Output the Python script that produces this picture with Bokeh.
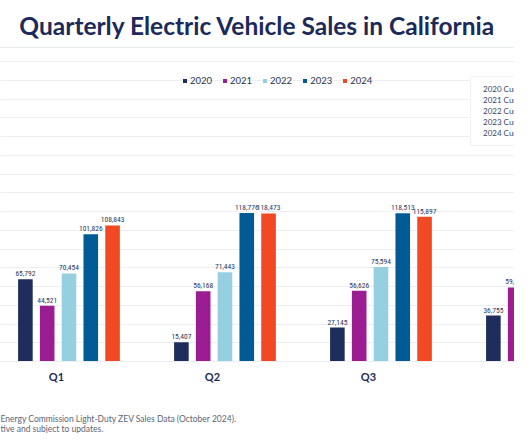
import math
from bokeh.plotting import figure
from bokeh.models import (ColumnDataSource, Legend, LegendItem, LinearAxis, FixedTicker,
                          SingleIntervalTicker, Grid, Title)
from bokeh.core.properties import value
from bokeh.embed import file_html
from bokeh.resources import INLINE

# ---------------- data ----------------
title_text = "Quarterly Electric Vehicle Sales in California"
quarters = ["Q1", "Q2", "Q3", "Q4"]
years = ["2020", "2021", "2022", "2023", "2024"]
nan = float("nan")
sales_2020 = [65792, 15407, 27145, 36755]
sales_2021 = [44521, 56168, 56626, 59245]
sales_2022 = [70454, 71443, 75594, nan]
sales_2023 = [101826, 118776, 118513, nan]
sales_2024 = [108843, 118473, 115897, nan]
series = [sales_2020, sales_2021, sales_2022, sales_2023, sales_2024]
cumulative_labels = [y + " Cumulative" for y in years]
footnotes = ["Energy Commission Light-Duty ZEV Sales Data (October 2024).",
             "tive and subject to updates."]

# ---------------- style ----------------
colors = ["#1e2d5c", "#9a1d92", "#95cfe0", "#005b94", "#f04923"]
navy = "#1c2a5a"
grid_color = "#eceef4"
FONT = "Lato"
LABEL_FONT = "Roboto Condensed"
group_shift = 0.080
pitch = 0.1397
bar_w = 0.0936

p = figure(frame_width=514, frame_height=314,
           x_range=(-0.359, 2.936), y_range=(0, 251200),
           output_backend="svg", toolbar_location=None,
           x_axis_location=None, y_axis_location=None,
           min_border=0, min_border_top=40,
           outline_line_color=None)
p.grid.visible = False

p.title.text = title_text
p.title.align = "center"
p.title.text_font = FONT
p.title.text_font_size = "24.5px"
p.title.text_font_style = "bold"
p.title.text_color = navy
p.title.standoff = 16

# top border line
top_axis = LinearAxis(ticker=FixedTicker(ticks=[]), axis_line_color="#e6e9f0",
                      major_tick_out=0, major_tick_in=0, minor_tick_out=0, minor_tick_in=0,
                      major_label_standoff=0, major_label_text_font_size="0px")
p.add_layout(top_axis, "above")

# horizontal grid
p.add_layout(Grid(dimension=1, ticker=SingleIntervalTicker(interval=15000, num_minor_ticks=0),
                  grid_line_color=grid_color, grid_line_width=1))

# x axis with quarter labels
xaxis = LinearAxis(ticker=FixedTicker(ticks=list(range(len(quarters)))),
                   major_label_overrides={i: q for i, q in enumerate(quarters)},
                   axis_line_color=grid_color, major_tick_out=0, major_tick_in=0,
                   minor_tick_out=0, minor_tick_in=0, major_label_standoff=8,
                   major_label_text_font=FONT, major_label_text_font_size="11px",
                   major_label_text_font_style="bold", major_label_text_color=navy)
p.add_layout(xaxis, "below")

bar_items = []
for j, (yr, vals) in enumerate(zip(years, series)):
    xs, tops, labels = [], [], []
    for i, v in enumerate(vals):
        if isinstance(v, float) and math.isnan(v):
            continue
        xs.append(i + group_shift + (j - 2) * pitch)
        tops.append(v)
        labels.append(f"{v:,}")
    src = ColumnDataSource(dict(x=xs, top=tops, label=labels))
    r = p.vbar(x="x", top="top", width=bar_w, source=src, fill_color=colors[j],
               line_color=None)
    p.text(x="x", y="top", text="label", source=src, y_offset=-3,
           text_align="center", text_baseline="bottom",
           text_font=value(LABEL_FONT), text_font_size="7.5px", text_color="#2a3760")
    bar_items.append(LegendItem(label=yr, renderers=[r]))

legend = Legend(items=bar_items, orientation="horizontal", location=(182, 275),
                glyph_width=5, glyph_height=5, label_standoff=3, spacing=10,
                label_height=10, label_width=10, padding=0, margin=0,
                border_line_color=None, background_fill_alpha=0,
                label_text_font=FONT, label_text_font_size="9.5px",
                label_text_color="#2b3550")
p.add_layout(legend, "center")

cum_items = []
for lab in cumulative_labels:
    r = p.line(x=[], y=[], line_alpha=0)
    cum_items.append(LegendItem(label=lab, renderers=[r]))
legend2 = Legend(items=cum_items, location=(470, 215), orientation="vertical",
                 glyph_width=0, glyph_height=10, label_standoff=5, spacing=1,
                 label_height=10, padding=7, margin=0,
                 border_line_color="#e3e6ed", background_fill_color="white",
                 label_text_font=FONT, label_text_font_size="8px",
                 label_text_color="#3b4563")
p.add_layout(legend2, "center")

# footnotes (spacer first, then the two lines in one block)
p.add_layout(Title(text="\u00a0", text_font_size="8.5px", standoff=14), "below")
p.add_layout(Title(text="\n".join(footnotes), align="left", text_font=FONT,
                   text_font_size="8.5px", text_font_style="normal",
                   text_color="#5b6577", text_line_height=1.0,
                   standoff=0, offset=0), "below")

open("out.html", "w").write(file_html(p, INLINE))
